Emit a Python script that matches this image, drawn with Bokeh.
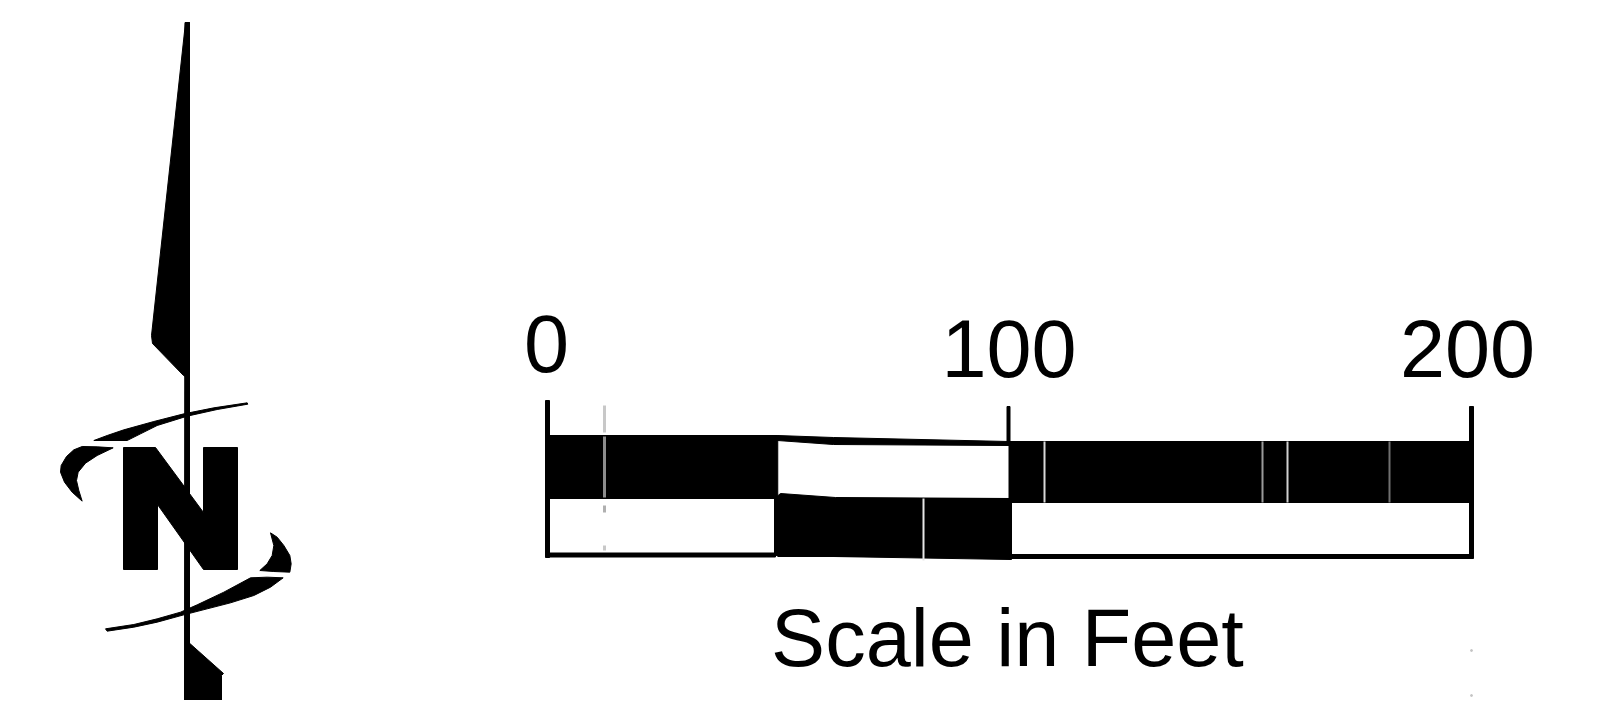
from bokeh.plotting import figure
from bokeh.models import Range1d
from bokeh.core.properties import value
from bokeh.embed import file_html
from bokeh.resources import INLINE

# ---- scale bar values (feet) ----
scale_ticks = [0, 100, 200]
scale_labels = ["0", "100", "200"]
upper_black_start = [0, 100]
upper_black_end = [50, 200]
lower_black_start = [50]
lower_black_end = [100]
scale_title = "Scale in Feet"
north_label_shape_x = [123, 155, 203, 203, 237, 237, 203, 157, 157, 123]
north_label_shape_y = [447, 447, 512, 447, 447, 569, 569, 504, 569, 569]

# pixel frame of the picture
X0, X1, Y0, Y1 = 0, 1586, 700, 0
PX_0FT, PX_200FT = 546.0, 1471.0
per_ft = (PX_200FT - PX_0FT) / 200.0

p = figure(width=1586, height=700, output_backend="svg", toolbar_location=None,
           x_range=Range1d(X0, X1), y_range=Range1d(Y0, Y1), min_border=0,
           background_fill_color="#ffffff", border_fill_color="#ffffff")
p.extra_x_ranges["feet"] = Range1d((X0 - PX_0FT) / per_ft, (X1 - PX_0FT) / per_ft)
p.axis.visible = False
p.grid.visible = False
p.outline_line_color = None

ink = "#000000"

# ---- north arrow ----
p.patch([184.5, 189, 189, 184], [22, 22, 700, 700], color=ink)                     # pole
p.patch([185, 189, 189, 183, 152, 151], [22, 22, 378, 375, 343, 335], color=ink)   # upper wedge
p.patch([186, 223, 221, 221, 186], [640, 673, 675, 700, 700], color=ink)           # lower pennant
p.patch(north_label_shape_x, north_label_shape_y, color=ink)                       # N

def z(pts):
    return [40 + a / 3 for a, _ in pts], [370 + b / 3 for _, b in pts]

upper_swoosh = [(160, 210), (200, 195), (250, 178), (340, 153), (430, 130), (520, 112), (620, 97),
                (622, 101), (530, 117), (440, 137), (350, 165), (300, 190), (260, 210)]
upper_crescent = [(218, 232), (170, 229), (125, 228), (100, 238), (78, 258), (62, 285), (60, 305),
                  (72, 335), (95, 365), (125, 392), (115, 360), (108, 330), (113, 305), (135, 278), (170, 255)]
lower_crescent = [(690, 487), (710, 500), (730, 525), (748, 555), (752, 580), (748, 605),
                  (700, 603), (658, 600), (680, 580), (695, 555), (700, 525)]
lower_swoosh = [(195, 775), (280, 762), (350, 745), (420, 725), (470, 703), (550, 665), (630, 622),
                (680, 620), (728, 622), (690, 650), (640, 675), (570, 697), (500, 715), (430, 733),
                (350, 755), (280, 770), (200, 782)]
for shape in (upper_swoosh, upper_crescent, lower_crescent, lower_swoosh):
    xs, ys = z(shape)
    p.patch(xs, ys, color=ink)

# ---- scale bar ----
p.quad(left=[0], right=[50], top=[435], bottom=[498], color=ink, x_range_name="feet")
p.quad(left=upper_black_start[1:], right=upper_black_end[1:], top=[441], bottom=[502],
       color=ink, x_range_name="feet")
p.quad(left=lower_black_start, right=lower_black_end, top=[498], bottom=[556],
       color=ink, x_range_name="feet")

# upper rim over the white 50-100 box and its slanted edges
p.patch([777, 833, 1008, 1008, 833, 777], [435, 437, 441, 445, 444, 440], color=ink)
p.patch([774, 780, 835, 1011, 1011, 774], [498, 493, 497, 498, 559, 555], color=ink)

# frames of the two white boxes
p.patch([546, 775, 775, 546], [552.5, 552.5, 556.5, 556.5], color=ink)
p.patch([1008, 1472, 1472, 1008], [554, 554, 558, 558], color=ink)
p.patch([545, 549, 549, 545], [400, 400, 557, 557], color=ink)
p.patch([1006.5, 1009.5, 1009.5, 1006.5], [406, 406, 445, 445], color=ink)
p.patch([1469, 1473, 1473, 1469], [406, 406, 558, 558], color=ink)

# scratches of the scan
for x0, y0, y1, c, w in [(604, 405, 432, "#c8c8c8", 3), (604, 436, 497, "#8c8c8c", 3),
                         (604, 505, 512, "#b0b0b0", 3), (604, 545, 550, "#c8c8c8", 3),
                         (923, 498, 560, "#e6e6e6", 2), (1044, 441, 502, "#d8d8d8", 2),
                         (1262, 441, 502, "#9a9a9a", 2), (1287, 441, 502, "#d0d0d0", 2),
                         (1389, 441, 502, "#707070", 2)]:
    p.segment([x0], [y0], [x0], [y1], line_color=c, line_width=w)
p.scatter([1471, 1471], [650, 695], size=2, color="#c4c4c4")

# ---- texts ----
label_y = [343, 348, 348]
p.text(x=scale_ticks, y=label_y, text=scale_labels, x_range_name="feet",
       x_offset=[0, 0, -4],
       text_font=value("Liberation Sans"), text_font_size="81px",
       text_align="center", text_baseline="middle", text_color=ink)
p.text(x=[1007], y=[637], text=[scale_title],
       text_font=value("Liberation Sans"), text_font_size="81px",
       text_align="center", text_baseline="middle", text_color=ink)

open("out.html", "w").write(file_html(p, INLINE))
